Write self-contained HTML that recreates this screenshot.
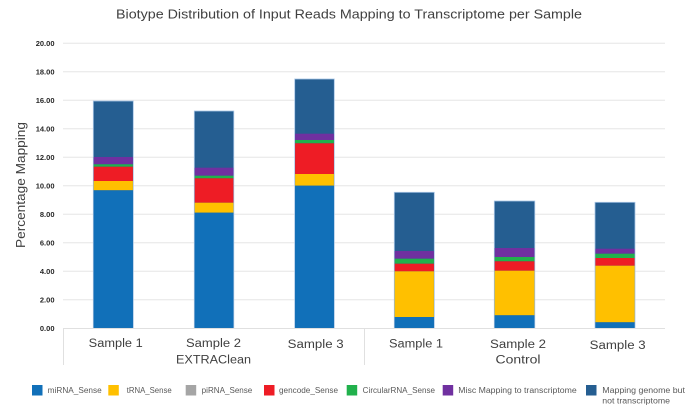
<!DOCTYPE html>
<html>
<head>
<meta charset="utf-8">
<style>
html,body{margin:0;padding:0;background:#fff;}
svg{display:block;}
text{font-family:"Liberation Sans",sans-serif;}
</style>
</head>
<body>
<svg width="700" height="409" viewBox="0 0 700 409" xmlns="http://www.w3.org/2000/svg">
<rect width="700" height="409" fill="#fff"/>
<!-- title -->
<text x="116" y="18.5" font-size="13" fill="#404040" textLength="466" lengthAdjust="spacingAndGlyphs">Biotype Distribution of Input Reads Mapping to Transcriptome per Sample</text>
<!-- gridlines -->
<g stroke="#e6e6e6" stroke-width="1">
<line x1="63" x2="665" y1="43.3" y2="43.3"/>
<line x1="63" x2="665" y1="71.8" y2="71.8"/>
<line x1="63" x2="665" y1="100.3" y2="100.3"/>
<line x1="63" x2="665" y1="128.8" y2="128.8"/>
<line x1="63" x2="665" y1="157.3" y2="157.3"/>
<line x1="63" x2="665" y1="185.8" y2="185.8"/>
<line x1="63" x2="665" y1="214.3" y2="214.3"/>
<line x1="63" x2="665" y1="242.8" y2="242.8"/>
<line x1="63" x2="665" y1="271.3" y2="271.3"/>
<line x1="63" x2="665" y1="299.8" y2="299.8"/>
</g>
<!-- y tick labels -->
<g font-size="7.5" fill="#262626" text-anchor="end" font-weight="bold">
<text x="54.5" y="46">20.00</text>
<text x="54.5" y="74.5">18.00</text>
<text x="54.5" y="103">16.00</text>
<text x="54.5" y="131.5">14.00</text>
<text x="54.5" y="160">12.00</text>
<text x="54.5" y="188.5">10.00</text>
<text x="54.5" y="217">8.00</text>
<text x="54.5" y="245.5">6.00</text>
<text x="54.5" y="274">4.00</text>
<text x="54.5" y="302.5">2.00</text>
<text x="54.5" y="331">0.00</text>
</g>
<!-- y title -->
<text transform="translate(25,185) rotate(-90)" font-size="12.5" fill="#404040" text-anchor="middle" textLength="126" lengthAdjust="spacingAndGlyphs">Percentage Mapping</text>

<!-- Bar1 -->
<rect x="93.3" y="101" width="40" height="227.3" fill="#255e91" stroke="#a9c6e6" stroke-width="0.8"/>
<rect x="93.7" y="157" width="39.2" height="7.3" fill="#7030a0"/>
<rect x="93.7" y="164.3" width="39.2" height="2.4" fill="#21b14c"/>
<rect x="93.7" y="166.7" width="39.2" height="14.3" fill="#ee1c25"/>
<rect x="93.7" y="181" width="39.2" height="9.3" fill="#ffc000"/>
<rect x="93.7" y="190.3" width="39.2" height="137.6" fill="#1170b9"/>
<!-- Bar2 -->
<rect x="194.3" y="111" width="39.5" height="217.3" fill="#255e91" stroke="#a9c6e6" stroke-width="0.8"/>
<rect x="194.7" y="167.7" width="38.7" height="8" fill="#7030a0"/>
<rect x="194.7" y="175.7" width="38.7" height="2.6" fill="#21b14c"/>
<rect x="194.7" y="178.3" width="38.7" height="24.4" fill="#ee1c25"/>
<rect x="194.7" y="202.7" width="38.7" height="10" fill="#ffc000"/>
<rect x="194.7" y="212.7" width="38.7" height="115.2" fill="#1170b9"/>
<!-- Bar3 -->
<rect x="294.7" y="79" width="39.6" height="249.3" fill="#255e91" stroke="#a9c6e6" stroke-width="0.8"/>
<rect x="295.1" y="133.7" width="38.8" height="6.3" fill="#7030a0"/>
<rect x="295.1" y="140" width="38.8" height="3.3" fill="#21b14c"/>
<rect x="295.1" y="143.3" width="38.8" height="30.7" fill="#ee1c25"/>
<rect x="295.1" y="174" width="38.8" height="11.7" fill="#ffc000"/>
<rect x="295.1" y="185.7" width="38.8" height="142.2" fill="#1170b9"/>
<!-- Bar4 -->
<rect x="394.3" y="192.3" width="40" height="136" fill="#255e91" stroke="#a9c6e6" stroke-width="0.8"/>
<rect x="394.7" y="251" width="39.2" height="7.7" fill="#7030a0"/>
<rect x="394.7" y="258.7" width="39.2" height="5" fill="#21b14c"/>
<rect x="394.7" y="263.7" width="39.2" height="7.6" fill="#ee1c25"/>
<rect x="394.7" y="271.3" width="39.2" height="45.7" fill="#ffc000"/>
<rect x="394.7" y="317" width="39.2" height="10.9" fill="#1170b9"/>
<!-- Bar5 -->
<rect x="494.3" y="201" width="40.5" height="127.3" fill="#255e91" stroke="#a9c6e6" stroke-width="0.8"/>
<rect x="494.7" y="248" width="39.7" height="9" fill="#7030a0"/>
<rect x="494.7" y="257" width="39.7" height="4.3" fill="#21b14c"/>
<rect x="494.7" y="261.3" width="39.7" height="9.4" fill="#ee1c25"/>
<rect x="494.7" y="270.7" width="39.7" height="44.6" fill="#ffc000"/>
<rect x="494.7" y="315.3" width="39.7" height="12.6" fill="#1170b9"/>
<!-- Bar6 -->
<rect x="595" y="202.3" width="40" height="126" fill="#255e91" stroke="#a9c6e6" stroke-width="0.8"/>
<rect x="595.4" y="248.7" width="39.2" height="5" fill="#7030a0"/>
<rect x="595.4" y="253.7" width="39.2" height="4.3" fill="#21b14c"/>
<rect x="595.4" y="258" width="39.2" height="7.7" fill="#ee1c25"/>
<rect x="595.4" y="265.7" width="39.2" height="56.6" fill="#ffc000"/>
<rect x="595.4" y="322.3" width="39.2" height="5.6" fill="#1170b9"/>

<!-- x axis -->
<line x1="63" x2="665" y1="328.5" y2="328.5" stroke="#e0e0e0" stroke-width="1"/>
<g stroke="#e0e0e0" stroke-width="1">
<line x1="63.5" x2="63.5" y1="328.5" y2="365"/>
<line x1="364.5" x2="364.5" y1="328.5" y2="365"/>
</g>
<!-- x labels -->
<g font-size="11.5" fill="#404040" text-anchor="middle">
<text x="115.7" y="346.8" textLength="54" lengthAdjust="spacingAndGlyphs">Sample 1</text>
<text x="213.5" y="346.8" textLength="55" lengthAdjust="spacingAndGlyphs">Sample 2</text>
<text x="315.7" y="348" textLength="56" lengthAdjust="spacingAndGlyphs">Sample 3</text>
<text x="213.5" y="363.5" textLength="75" lengthAdjust="spacingAndGlyphs">EXTRAClean</text>
<text x="416" y="347.5" textLength="54" lengthAdjust="spacingAndGlyphs">Sample 1</text>
<text x="518" y="348" textLength="56" lengthAdjust="spacingAndGlyphs">Sample 2</text>
<text x="617.7" y="349" textLength="56" lengthAdjust="spacingAndGlyphs">Sample 3</text>
<text x="518" y="363.5" textLength="45" lengthAdjust="spacingAndGlyphs">Control</text>
</g>

<!-- legend -->
<rect x="32" y="385" width="10.5" height="10.5" fill="#1170b9"/>
<rect x="108.3" y="385" width="10.5" height="10.5" fill="#ffc000"/>
<rect x="185.7" y="385" width="10.5" height="10.5" fill="#a5a5a5"/>
<rect x="264" y="385" width="10.5" height="10.5" fill="#ee1c25"/>
<rect x="346.7" y="385" width="10.5" height="10.5" fill="#21b14c"/>
<rect x="442.7" y="385" width="10.5" height="10.5" fill="#7030a0"/>
<rect x="586" y="385" width="10.5" height="10.5" fill="#255e91"/>
<g font-size="8" fill="#595959">
<text x="47.7" y="392.8" textLength="54" lengthAdjust="spacingAndGlyphs">miRNA_Sense</text>
<text x="126.7" y="392.8" textLength="45" lengthAdjust="spacingAndGlyphs">tRNA_Sense</text>
<text x="201.7" y="392.8" textLength="50.6" lengthAdjust="spacingAndGlyphs">piRNA_Sense</text>
<text x="279" y="392.8" textLength="59" lengthAdjust="spacingAndGlyphs">gencode_Sense</text>
<text x="362.7" y="392.8" textLength="72.3" lengthAdjust="spacingAndGlyphs">CircularRNA_Sense</text>
<text x="458.3" y="392.8" textLength="118.4" lengthAdjust="spacingAndGlyphs">Misc Mapping to transcriptome</text>
<text x="602.3" y="392.8" textLength="82.7" lengthAdjust="spacingAndGlyphs">Mapping genome but</text>
<text x="602.3" y="403.5" textLength="67.7" lengthAdjust="spacingAndGlyphs">not transcriptome</text>
</g>
</svg>
</body>
</html>
